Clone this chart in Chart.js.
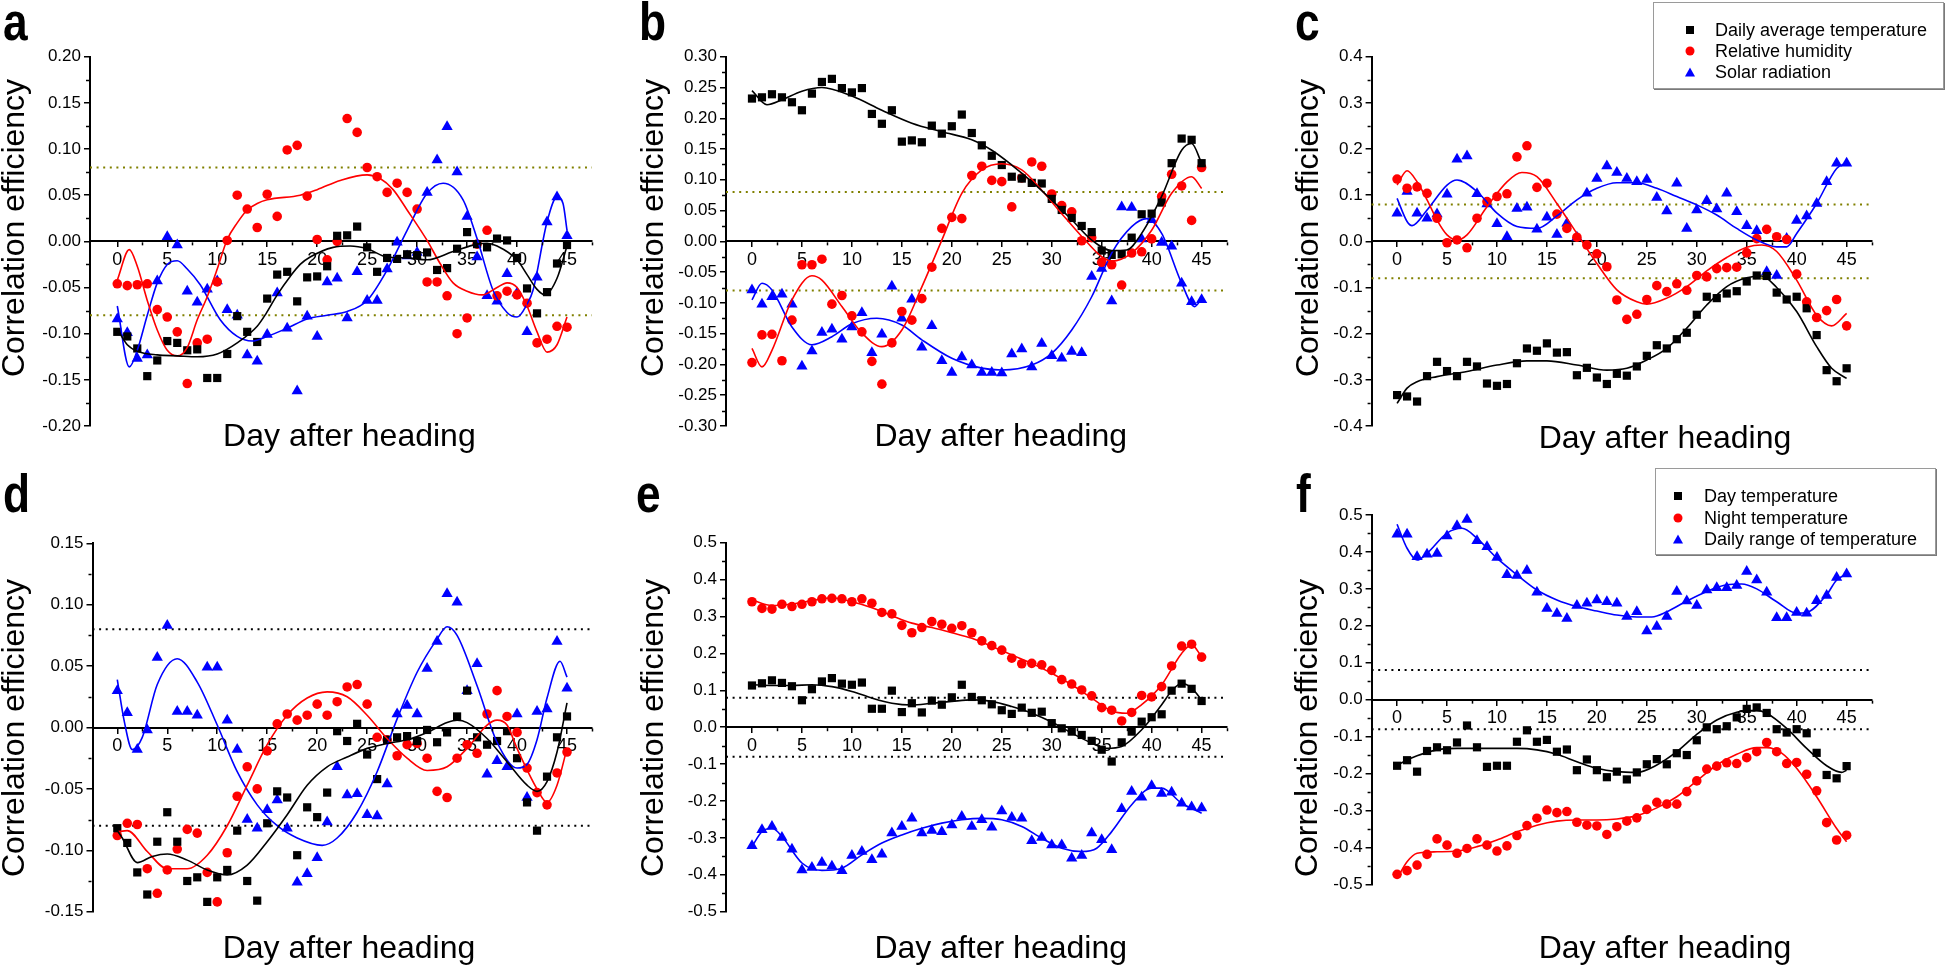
<!DOCTYPE html>
<html><head><meta charset="utf-8">
<script src="https://cdn.jsdelivr.net/npm/chart.js"></script>
<style>
html,body{margin:0;padding:0;background:#fff;}
body{position:relative;width:1946px;height:970px;overflow:hidden;font-family:"Liberation Sans",Arial,Helvetica,sans-serif;color:#000;}
.panel{position:absolute;}
.panel canvas{display:block;}
.letter{position:absolute;font-weight:bold;font-size:54px;line-height:54px;transform:scaleX(0.82);transform-origin:0 0;z-index:5;}
.xt{position:absolute;font-size:32px;line-height:32px;white-space:nowrap;transform:translate(-50%,-50%);z-index:5;}
.yt{position:absolute;font-size:32px;line-height:32px;white-space:nowrap;transform:translate(-50%,-50%) rotate(-90deg);z-index:5;}
.legend{position:absolute;background:#fff;border:1px solid #9a9a9a;box-shadow:1px 1px 0 #7a7a7a;z-index:6;}
.ltxt{position:absolute;font-size:18px;line-height:18px;white-space:nowrap;transform:translateY(-50%);}
.mk{position:absolute;transform:translate(-50%,-50%);}
</style></head><body>
<script>
// ---------------- DATA ----------------
const days=[0,1,2,3,4,5,6,7,8,9,10,11,12,13,14,15,16,17,18,19,20,21,22,23,24,25,26,27,28,29,30,31,32,33,34,35,36,37,38,39,40,41,42,43,44,45];
const xMajorTicks=[0,5,10,15,20,25,30,35,40,45];
const xMinorTicks=[2.5,7.5,12.5,17.5,22.5,27.5,32.5,37.5,42.5,47.5];
const refLevels=[0.08,-0.08];
const legendTopRow=['Daily average temperature','Relative humidity','Solar radiation'];
const legendBottomRow=['Day temperature','Night temperature','Daily range of temperature'];

const aYTicks=[-0.20,-0.15,-0.10,-0.05,0,0.05,0.10,0.15,0.20];
const aYMinor=[-0.175,-0.125,-0.075,-0.025,0.025,0.075,0.125,0.175];
const bYTicks=[-0.30,-0.25,-0.20,-0.15,-0.10,-0.05,0,0.05,0.10,0.15,0.20,0.25,0.30];
const bYMinor=[-0.275,-0.225,-0.175,-0.125,-0.075,-0.025,0.025,0.075,0.125,0.175,0.225,0.275];
const cYTicks=[-0.4,-0.3,-0.2,-0.1,0,0.1,0.2,0.3,0.4];
const cYMinor=[-0.35,-0.25,-0.15,-0.05,0.05,0.15,0.25,0.35];
const dYTicks=[-0.15,-0.10,-0.05,0,0.05,0.10,0.15];
const dYMinor=[-0.125,-0.075,-0.025,0.025,0.075,0.125];
const efYTicks=[-0.5,-0.4,-0.3,-0.2,-0.1,0,0.1,0.2,0.3,0.4,0.5];
const efYMinor=[-0.45,-0.35,-0.25,-0.15,-0.05,0.05,0.15,0.25,0.35,0.45];

// panel a
const aTemp=[-0.098,-0.103,-0.116,-0.146,-0.129,-0.108,-0.110,-0.118,-0.117,-0.148,-0.148,-0.122,-0.081,-0.098,-0.109,-0.062,-0.036,-0.033,-0.065,-0.039,-0.038,-0.027,0.006,0.0065,0.016,-0.0065,-0.033,-0.018,-0.019,-0.014,-0.015,-0.012,-0.031,-0.029,-0.008,0.010,-0.003,-0.0065,0.003,0.001,-0.018,-0.051,-0.078,-0.055,-0.024,-0.004];
const aHum=[-0.046,-0.048,-0.047,-0.046,-0.074,-0.082,-0.098,-0.154,-0.110,-0.106,-0.044,0.001,0.050,0.035,0.015,0.051,0.027,0.099,0.104,0.049,0.002,-0.020,0.000,0.133,0.118,0.080,0.070,0.053,0.063,0.053,0.035,-0.044,-0.044,-0.059,-0.100,-0.083,-0.003,0.012,-0.059,-0.054,-0.058,-0.067,-0.110,-0.106,-0.092,-0.093];
const aSolar=[-0.084,-0.099,-0.127,-0.123,-0.043,0.005,-0.004,-0.054,-0.066,-0.052,-0.043,-0.074,-0.080,-0.123,-0.130,-0.101,-0.056,-0.094,-0.162,-0.081,-0.103,-0.044,-0.040,-0.083,-0.033,-0.064,-0.064,-0.030,-0.001,-0.016,-0.012,0.053,0.088,0.124,0.075,0.027,-0.017,-0.059,-0.065,-0.035,-0.056,-0.098,-0.039,0.021,0.048,0.006];
const aTempFitX=[0,1,2,4,6,8,10,12,14,14.9,16,17.3,18.3,19.3,21.6,23.3,25,27,29,31,33.6,36,37,38,40,41,42,42.8,44,45];
const aTempFitY=[-0.095,-0.112,-0.119,-0.123,-0.124,-0.125,-0.122,-0.110,-0.092,-0.078,-0.058,-0.038,-0.025,-0.017,-0.0065,-0.005,-0.008,-0.017,-0.018,-0.020,-0.011,-0.003,-0.002,-0.005,-0.020,-0.036,-0.052,-0.058,-0.040,-0.005];
const aHumFitX=[0,1.2,2,3,4,5,6,7,8,9,10,11,12,13,14,15,18.3,20,22.3,25,26.3,27.6,29,31,32.3,33.6,35,36.5,38,39,40,41,42,43,44,45];
const aHumFitY=[-0.042,-0.009,-0.027,-0.064,-0.096,-0.118,-0.124,-0.115,-0.085,-0.060,-0.030,0.002,0.020,0.034,0.041,0.045,0.050,0.056,0.066,0.072,0.068,0.056,0.034,0.001,-0.024,-0.045,-0.054,-0.058,-0.050,-0.045,-0.050,-0.070,-0.098,-0.120,-0.112,-0.082];
const aSolarFitX=[0,1.2,2,3,4,5,6,7,8.3,10.3,12,13.5,15,17,19,21,23,25,27,29,31,32.6,34.6,36,37.6,39,40,41,41.6,43,44,44.6,45];
const aSolarFitY=[-0.070,-0.136,-0.118,-0.080,-0.045,-0.025,-0.021,-0.030,-0.047,-0.085,-0.103,-0.108,-0.103,-0.094,-0.084,-0.080,-0.076,-0.064,-0.031,0.012,0.052,0.063,0.045,0.003,-0.053,-0.077,-0.082,-0.068,-0.053,0.021,0.048,0.041,0.012];

// panel b
const bTemp=[0.232,0.234,0.239,0.234,0.226,0.213,0.240,0.259,0.264,0.249,0.242,0.249,0.207,0.191,0.213,0.162,0.164,0.161,0.188,0.175,0.187,0.206,0.176,0.156,0.139,0.124,0.105,0.102,0.095,0.094,0.069,0.051,0.038,0.025,0.015,-0.015,-0.022,-0.021,0.006,0.044,0.045,0.063,0.127,0.167,0.165,0.127];
const bHum=[-0.197,-0.152,-0.151,-0.194,-0.128,-0.038,-0.038,-0.029,-0.102,-0.088,-0.121,-0.147,-0.195,-0.232,-0.165,-0.114,-0.128,-0.093,-0.042,0.021,0.039,0.037,0.107,0.122,0.099,0.097,0.056,0.103,0.129,0.122,0.077,0.058,0.048,0.001,0.006,-0.034,-0.038,-0.071,-0.019,-0.017,0.004,0.073,0.109,0.090,0.034,0.120];
const bSolar=[-0.079,-0.102,-0.090,-0.086,-0.102,-0.203,-0.178,-0.148,-0.143,-0.159,-0.139,-0.116,-0.181,-0.151,-0.073,-0.125,-0.094,-0.172,-0.137,-0.194,-0.213,-0.188,-0.201,-0.213,-0.213,-0.214,-0.183,-0.175,-0.204,-0.166,-0.186,-0.190,-0.179,-0.181,-0.057,-0.044,-0.097,0.056,0.055,0.004,0.035,-0.002,-0.008,-0.068,-0.098,-0.095];
const bTempFitX=[0,1.5,3,5,7,10,13,16,19,22,24,26,28,30,32,34,36,37.5,39,41,43,44,45];
const bTempFitY=[0.245,0.222,0.230,0.244,0.250,0.236,0.213,0.192,0.178,0.165,0.148,0.124,0.097,0.067,0.035,0.002,-0.015,-0.014,0.013,0.073,0.148,0.159,0.127];
const bHumFitX=[0,1,2,4,6,7,9,11,13,15,17,19,21,23,25,27,29,31,33,35,36,38,40,42,44,45];
const bHumFitY=[-0.174,-0.204,-0.177,-0.095,-0.056,-0.063,-0.106,-0.149,-0.171,-0.144,-0.074,0.002,0.078,0.116,0.126,0.116,0.083,0.045,0.008,-0.025,-0.032,-0.019,0.018,0.078,0.105,0.086];
const bSolarFitX=[0,1,2,4,6,8,10,12.5,15,17,20,23,25,28,30,32,34,36,38,39.5,41,43,44.3,45];
const bSolarFitY=[-0.095,-0.068,-0.079,-0.139,-0.168,-0.155,-0.134,-0.125,-0.136,-0.160,-0.190,-0.206,-0.209,-0.201,-0.182,-0.144,-0.090,-0.019,0.024,0.037,0.013,-0.068,-0.106,-0.093];

// panel c
const cTemp=[-0.333,-0.336,-0.347,-0.292,-0.261,-0.281,-0.292,-0.261,-0.271,-0.308,-0.313,-0.309,-0.264,-0.232,-0.237,-0.221,-0.241,-0.240,-0.290,-0.274,-0.295,-0.309,-0.287,-0.291,-0.271,-0.248,-0.225,-0.232,-0.212,-0.198,-0.159,-0.120,-0.123,-0.113,-0.108,-0.087,-0.074,-0.075,-0.111,-0.126,-0.120,-0.145,-0.203,-0.279,-0.303,-0.275];
const cHum=[0.135,0.115,0.118,0.104,0.050,-0.003,0.003,-0.014,0.050,0.086,0.097,0.103,0.183,0.207,0.117,0.126,0.059,0.028,0.009,-0.008,-0.027,-0.055,-0.127,-0.169,-0.158,-0.126,-0.096,-0.109,-0.092,-0.106,-0.074,-0.077,-0.059,-0.057,-0.056,-0.025,0.006,0.026,0.010,0.004,-0.071,-0.131,-0.165,-0.150,-0.126,-0.183];
const cSolar=[0.061,0.108,0.061,0.050,0.059,0.102,0.178,0.185,0.103,0.081,0.038,0.010,0.071,0.074,0.026,0.052,0.015,0.039,0.009,0.104,0.136,0.163,0.149,0.136,0.129,0.134,0.095,0.066,0.126,0.028,0.068,0.088,0.070,0.104,0.064,0.034,0.023,-0.066,-0.074,0.006,0.045,0.055,0.082,0.129,0.169,0.169];
const cTempFitX=[0,1,2,4,7,10,13,15,18,21,23,25,27,29,31,33,35,36.5,38,40,42,43.5,45];
const cTempFitY=[-0.351,-0.318,-0.304,-0.293,-0.282,-0.268,-0.259,-0.259,-0.268,-0.279,-0.275,-0.257,-0.232,-0.188,-0.138,-0.098,-0.079,-0.075,-0.100,-0.152,-0.228,-0.275,-0.297];
const cHumFitX=[0,1,2,3,4,5,6,7,9,11,12.5,14,16,18,20,22,24,25,27,29,31,33,35,36.5,38,40,42,43.5,45];
const cHumFitY=[0.122,0.153,0.129,0.090,0.046,0.014,0.003,0.014,0.075,0.129,0.149,0.140,0.082,0.017,-0.048,-0.105,-0.131,-0.136,-0.123,-0.098,-0.064,-0.035,-0.013,-0.008,-0.022,-0.084,-0.160,-0.183,-0.156];
const cSolarFitX=[0,1,1.5,3,5,6,8,10,12,14,16,18,20,22,24,26,28,30,32,34,36,38,39,40,42,44,45];
const cSolarFitY=[0.093,0.043,0.034,0.068,0.122,0.133,0.108,0.061,0.032,0.028,0.055,0.090,0.115,0.127,0.127,0.115,0.097,0.079,0.057,0.028,0.003,-0.012,-0.012,0.017,0.082,0.158,0.170];

// panel d
const dDayTemp=[-0.082,-0.094,-0.118,-0.136,-0.093,-0.069,-0.093,-0.125,-0.122,-0.142,-0.122,-0.116,-0.084,-0.125,-0.141,-0.078,-0.052,-0.057,-0.104,-0.065,-0.073,-0.053,-0.003,-0.011,0.003,-0.022,-0.042,-0.010,-0.008,-0.007,-0.011,-0.002,-0.012,-0.004,0.009,0.030,-0.008,-0.014,-0.011,-0.003,-0.025,-0.061,-0.084,-0.040,-0.008,0.009];
const dNightTemp=[-0.088,-0.078,-0.079,-0.115,-0.135,-0.116,-0.099,-0.083,-0.086,-0.118,-0.142,-0.102,-0.056,-0.032,-0.050,-0.019,0.003,0.011,0.006,0.010,0.019,0.010,0.021,0.033,0.035,0.019,-0.008,-0.010,-0.023,-0.014,-0.013,-0.025,-0.052,-0.057,-0.025,-0.014,-0.021,0.011,0.030,0.009,-0.004,-0.033,-0.053,-0.063,-0.037,-0.020];
const dRange=[0.030,0.012,-0.018,-0.002,0.057,0.083,0.013,0.013,0.010,0.049,0.049,0.006,-0.018,-0.075,-0.082,-0.067,-0.059,-0.082,-0.126,-0.119,-0.106,-0.077,-0.032,-0.055,-0.054,-0.071,-0.072,-0.046,0.011,0.018,0.011,0.048,0.070,0.109,0.102,0.030,0.052,-0.038,-0.027,-0.032,0.011,-0.057,0.013,0.015,0.070,0.032];
const dDayFitX=[0,0.5,2,3.5,5,7,9,11,13,15,17,19,21,23,25,27,29,31,33,34,35,37,39,41,42,43,44,45];
const dDayFitY=[-0.084,-0.090,-0.110,-0.105,-0.103,-0.108,-0.116,-0.120,-0.112,-0.093,-0.071,-0.047,-0.032,-0.024,-0.017,-0.013,-0.010,-0.004,0.004,0.006,0.004,-0.009,-0.028,-0.047,-0.052,-0.044,-0.020,0.020];
const dNightFitX=[0,1,3,5,7,9,11,13,15,17,19,21,23,25,27,29,31,33,35,37,38,39,40,42,43,44,45];
const dNightFitY=[-0.085,-0.084,-0.101,-0.115,-0.115,-0.104,-0.080,-0.047,-0.014,0.010,0.024,0.029,0.025,0.010,-0.009,-0.025,-0.035,-0.032,-0.017,0.002,0.006,0.002,-0.017,-0.050,-0.061,-0.047,-0.017];
const dRangeFitX=[0,0.7,1.5,2.5,4,6,8,10,12,14,16,18,20.5,22,24,26,28,30,32,33,34,36,38,40,41,42,43,44.3,45];
const dRangeFitY=[0.039,0.005,-0.018,-0.008,0.035,0.056,0.037,0.002,-0.036,-0.063,-0.080,-0.090,-0.096,-0.090,-0.069,-0.036,0.007,0.045,0.072,0.082,0.075,0.034,-0.012,-0.033,-0.030,-0.010,0.024,0.054,0.041];

// panel e
const eDayTemp=[0.113,0.119,0.127,0.120,0.111,0.073,0.103,0.124,0.133,0.118,0.115,0.121,0.050,0.050,0.099,0.041,0.065,0.040,0.072,0.061,0.081,0.115,0.082,0.073,0.062,0.046,0.036,0.053,0.039,0.042,0.011,-0.003,-0.012,-0.021,-0.037,-0.061,-0.093,-0.041,-0.012,0.015,0.027,0.035,0.099,0.118,0.104,0.071];
const eNightTemp=[0.340,0.322,0.320,0.333,0.327,0.333,0.340,0.348,0.349,0.348,0.340,0.348,0.336,0.311,0.307,0.276,0.256,0.270,0.286,0.279,0.268,0.275,0.256,0.234,0.221,0.209,0.187,0.172,0.173,0.169,0.154,0.129,0.117,0.101,0.085,0.053,0.046,0.017,0.040,0.086,0.082,0.110,0.166,0.220,0.225,0.190];
const eRange=[-0.321,-0.278,-0.269,-0.299,-0.331,-0.387,-0.380,-0.367,-0.377,-0.389,-0.348,-0.337,-0.359,-0.344,-0.287,-0.269,-0.247,-0.287,-0.280,-0.283,-0.265,-0.242,-0.269,-0.251,-0.271,-0.227,-0.245,-0.247,-0.308,-0.299,-0.319,-0.319,-0.355,-0.348,-0.287,-0.305,-0.332,-0.221,-0.174,-0.190,-0.159,-0.180,-0.176,-0.206,-0.216,-0.219];
const eDayFitX=[0,2,4,6,8,10,12,14,16,18,20,22,24,26,28,30,32,34,35.5,37,39,41,42,43,44,45];
const eDayFitY=[0.115,0.113,0.113,0.115,0.110,0.097,0.079,0.065,0.060,0.065,0.070,0.074,0.070,0.056,0.038,0.014,-0.016,-0.043,-0.057,-0.052,-0.007,0.061,0.098,0.119,0.106,0.074];
const eNightFitX=[0,2,4,6,8,10,12,14,16,18,20,22,24,26,28,30,32,34,36,37.5,39,41,43,44,45];
const eNightFitY=[0.345,0.330,0.334,0.343,0.351,0.340,0.324,0.302,0.282,0.270,0.256,0.241,0.219,0.196,0.173,0.146,0.115,0.079,0.044,0.038,0.061,0.115,0.200,0.223,0.191];
const eRangeFitX=[0,1,2,3,5,7,9,11,13,15,17,19,21,23,25,27,29,31,33,34.5,36,38,40,41,43,45];
const eRangeFitY=[-0.323,-0.283,-0.274,-0.296,-0.368,-0.388,-0.382,-0.346,-0.314,-0.292,-0.274,-0.260,-0.251,-0.247,-0.251,-0.269,-0.301,-0.328,-0.337,-0.328,-0.283,-0.210,-0.165,-0.165,-0.206,-0.233];

// panel f
const fDayTemp=[-0.179,-0.164,-0.195,-0.139,-0.129,-0.137,-0.116,-0.070,-0.129,-0.182,-0.179,-0.179,-0.114,-0.083,-0.114,-0.109,-0.141,-0.135,-0.191,-0.162,-0.191,-0.210,-0.195,-0.216,-0.197,-0.175,-0.161,-0.175,-0.145,-0.150,-0.110,-0.075,-0.080,-0.072,-0.048,-0.025,-0.021,-0.036,-0.080,-0.089,-0.080,-0.091,-0.144,-0.204,-0.213,-0.180];
const fNightTemp=[-0.473,-0.463,-0.448,-0.419,-0.377,-0.394,-0.416,-0.403,-0.377,-0.394,-0.410,-0.396,-0.368,-0.341,-0.321,-0.299,-0.306,-0.303,-0.332,-0.340,-0.342,-0.365,-0.344,-0.329,-0.320,-0.297,-0.278,-0.283,-0.283,-0.249,-0.220,-0.188,-0.180,-0.171,-0.173,-0.157,-0.141,-0.116,-0.141,-0.173,-0.170,-0.202,-0.247,-0.333,-0.380,-0.367];
const fRange=[0.448,0.448,0.387,0.394,0.396,0.443,0.471,0.488,0.430,0.414,0.385,0.338,0.336,0.350,0.291,0.247,0.233,0.220,0.255,0.261,0.270,0.265,0.261,0.225,0.238,0.186,0.198,0.225,0.293,0.267,0.255,0.297,0.303,0.303,0.309,0.347,0.324,0.291,0.222,0.222,0.236,0.234,0.268,0.282,0.331,0.340];
const fDayFitX=[0,2,4,6,8,10,12,14,16,18,20,22,24,26,28,30,32,34,36,37,39,41,43,44.5,45];
const fDayFitY=[-0.177,-0.152,-0.136,-0.132,-0.132,-0.132,-0.132,-0.136,-0.148,-0.168,-0.186,-0.195,-0.197,-0.177,-0.141,-0.094,-0.055,-0.034,-0.029,-0.037,-0.078,-0.132,-0.179,-0.197,-0.191];
const fNightFitX=[0,1,2,4,6,8,10,12,14,16,18,20,22,24,26,28,30,32,34,36,37,38.5,40,42,44,45];
const fNightFitY=[-0.484,-0.439,-0.416,-0.412,-0.410,-0.398,-0.380,-0.358,-0.340,-0.329,-0.326,-0.326,-0.323,-0.314,-0.293,-0.263,-0.220,-0.177,-0.148,-0.130,-0.130,-0.145,-0.186,-0.263,-0.349,-0.385];
const fRangeFitX=[0,1,2,3,5,6.5,8,10,12,14,16,18,20,22,24,25.5,27,29,31,33,34.5,36,38,40,41,43,44,45];
const fRangeFitY=[0.475,0.410,0.378,0.396,0.451,0.464,0.437,0.383,0.338,0.297,0.270,0.252,0.240,0.229,0.224,0.224,0.238,0.267,0.293,0.311,0.313,0.300,0.265,0.234,0.236,0.284,0.324,0.340];

// ---------------- LAYOUT / STYLE ----------------
const X_MAX=47.5;
const colors=['#000000','#ff0000','#0000ff'];
const pointStyles=['rect','circle','triangle'];
const pointRadii=[5.8,4.8,6.5];
const OLIVE='#808000';

const panels=[
 {letter:'a',letterPos:[3,-6],box:[0,0,640,485],area:[90,56.7,592,426],xMin:-2.73,yMin:-0.2,yMax:0.2,yTicks:aYTicks,yMinor:aYMinor,dec:2,refColor:OLIVE,labels:legendTopRow,
  series:[[aTemp,aTempFitX,aTempFitY],[aHum,aHumFitX,aHumFitY],[aSolar,aSolarFitX,aSolarFitY]],yt:[12.5,227.5],xt:[349.4,435]},
 {letter:'b',letterPos:[639,-6],box:[640,0,650,485],area:[726,56.7,1226.6,426],xMin:-2.6,yMin:-0.3,yMax:0.3,yTicks:bYTicks,yMinor:bYMinor,dec:2,refColor:OLIVE,labels:legendTopRow,
  series:[[bTemp,bTempFitX,bTempFitY],[bHum,bHumFitX,bHumFitY],[bSolar,bSolarFitX,bSolarFitY]],yt:[651.5,227.5],xt:[1000.7,435]},
 {letter:'c',letterPos:[1295,-6],box:[1290,0,656,485],area:[1371.6,56.7,1871.6,426],xMin:-2.55,yMin:-0.4,yMax:0.4,yTicks:cYTicks,yMinor:cYMinor,dec:1,refColor:OLIVE,labels:legendTopRow,
  series:[[cTemp,cTempFitX,cTempFitY],[cHum,cHumFitX,cHumFitY],[cSolar,cSolarFitX,cSolarFitY]],yt:[1306.5,227.5],xt:[1665,437]},
 {letter:'d',letterPos:[3,466],box:[0,485,640,485],area:[92.5,543.3,592,911.7],xMin:-2.48,yMin:-0.15,yMax:0.15,yTicks:dYTicks,yMinor:dYMinor,dec:2,refColor:'#000',labels:legendBottomRow,
  series:[[dDayTemp,dDayFitX,dDayFitY],[dNightTemp,dNightFitX,dNightFitY],[dRange,dRangeFitX,dRangeFitY]],yt:[12.5,727.6],xt:[349,947]},
 {letter:'e',letterPos:[636,466],box:[640,485,650,485],area:[726,542.7,1226.6,911.7],xMin:-2.6,yMin:-0.5,yMax:0.5,yTicks:efYTicks,yMinor:efYMinor,dec:1,refColor:'#000',labels:legendBottomRow,
  series:[[eDayTemp,eDayFitX,eDayFitY],[eNightTemp,eNightFitX,eNightFitY],[eRange,eRangeFitX,eRangeFitY]],yt:[651.5,727.6],xt:[1000.7,947]},
 {letter:'f',letterPos:[1296,466],box:[1290,485,656,485],area:[1371.6,515,1871.6,884.3],xMin:-2.55,yMin:-0.5,yMax:0.5,yTicks:efYTicks,yMinor:efYMinor,dec:1,refColor:'#000',labels:legendBottomRow,
  series:[[fDayTemp,fDayFitX,fDayFitY],[fNightTemp,fNightFitX,fNightFitY],[fRange,fRangeFitX,fRangeFitY]],yt:[1305.5,727.6],xt:[1665,947]}
];

Chart.defaults.font.family='"Liberation Sans", Arial, Helvetica, sans-serif';
Chart.defaults.color='#000';

const minorTickPlugin={
  id:'minorTicks',
  afterDraw(chart,args,opts){
    const {ctx,chartArea}=chart; const xs=chart.scales.x, ys=chart.scales.y;
    const y0=ys.getPixelForValue(0);
    ctx.save(); ctx.strokeStyle='#000'; ctx.lineWidth=1.5;
    (opts.x||[]).forEach(v=>{const px=Math.round(xs.getPixelForValue(v))+0.5; ctx.beginPath(); ctx.moveTo(px,y0+1); ctx.lineTo(px,y0+4); ctx.stroke();});
    (opts.y||[]).forEach(v=>{const py=Math.round(ys.getPixelForValue(v))+0.5; ctx.beginPath(); ctx.moveTo(chartArea.left-1,py); ctx.lineTo(chartArea.left-4,py); ctx.stroke();});
    ctx.restore();
  }
};

function addDiv(cls,text,style){const d=document.createElement('div');d.className=cls;if(text!==null)d.textContent=text;Object.assign(d.style,style);document.body.appendChild(d);return d;}

panels.forEach(p=>{
  const [cx,cy,cw,ch]=p.box,[L,T,R,B]=p.area,YW=60;
  const wrap=document.createElement('div');wrap.className='panel';
  Object.assign(wrap.style,{left:cx+'px',top:cy+'px',width:cw+'px',height:ch+'px'});
  const cv=document.createElement('canvas');cv.width=cw;cv.height=ch;cv.style.width=cw+'px';cv.style.height=ch+'px';
  wrap.appendChild(cv);document.body.appendChild(wrap);
  const ds=[];
  refLevels.forEach(v=>ds.push({type:'line',label:'ref '+v,data:[{x:p.xMin,y:v},{x:X_MAX,y:v}],borderColor:p.refColor,borderWidth:2,borderDash:[2,4.6],pointRadius:0,fill:false,order:5,clip:false}));
  p.series.forEach((s,i)=>ds.push({type:'scatter',label:p.labels[i],data:days.map((d,j)=>({x:d,y:s[0][j]})),pointStyle:pointStyles[i],pointRadius:pointRadii[i],pointHoverRadius:pointRadii[i],backgroundColor:colors[i],borderColor:colors[i],borderWidth:0,order:3,clip:false}));
  p.series.forEach((s,i)=>ds.push({type:'line',label:p.labels[i]+' fit',data:s[1].map((x,j)=>({x:x,y:s[2][j]})),borderColor:colors[i],borderWidth:1.6,pointRadius:0,cubicInterpolationMode:'monotone',fill:false,order:1,clip:false}));
  new Chart(cv,{type:'scatter',data:{datasets:ds},options:{
    responsive:false,animation:false,devicePixelRatio:1,events:[],
    layout:{padding:{left:L-cx-YW,top:T-cy,right:cx+cw-R,bottom:cy+ch-B}},
    plugins:{legend:{display:false},tooltip:{enabled:false},minorTicks:{x:xMinorTicks,y:p.yMinor}},
    scales:{
      x:{type:'linear',position:{y:0},min:p.xMin,max:X_MAX,
         afterBuildTicks:s=>{s.ticks=xMajorTicks.map(v=>({value:v}));},
         ticks:{callback:v=>String(v),font:{size:18},color:'#000',padding:3,maxRotation:0,autoSkip:false},
         grid:{display:true,drawOnChartArea:false,drawTicks:true,tickLength:5,color:'#000',lineWidth:1.5},
         border:{display:true,color:'#000',width:2}},
      y:{type:'linear',position:'left',min:p.yMin,max:p.yMax,
         afterBuildTicks:s=>{s.ticks=p.yTicks.map(v=>({value:v}));},
         afterFit:s=>{s.width=YW;},
         ticks:{callback:v=>Number(v).toFixed(p.dec),font:{size:17},color:'#000',padding:3,autoSkip:false},
         grid:{display:true,drawOnChartArea:false,drawTicks:true,tickLength:6,color:'#000',lineWidth:1.5},
         border:{display:true,color:'#000',width:2}}
    }},plugins:[minorTickPlugin]});
  addDiv('letter',p.letter,{left:p.letterPos[0]+'px',top:p.letterPos[1]+'px'});
  addDiv('yt','Correlation efficiency',{left:p.yt[0]+'px',top:p.yt[1]+'px'});
  addDiv('xt','Day after heading',{left:p.xt[0]+'px',top:p.xt[1]+'px'});
});

// legends
function makeLegend(labels,box,rowsY,markerX,textX){
  const lg=addDiv('legend',null,{left:box[0]+'px',top:box[1]+'px',width:box[2]+'px',height:box[3]+'px'});
  labels.forEach((t,i)=>{
    const m=document.createElement('div');m.className='mk';
    m.style.left=(markerX-box[0])+'px';m.style.top=(rowsY[i]-box[1])+'px';
    if(i===0){Object.assign(m.style,{width:'8px',height:'8px',background:colors[0]});}
    else if(i===1){Object.assign(m.style,{width:'9px',height:'9px',borderRadius:'50%',background:colors[1]});}
    else {Object.assign(m.style,{width:'0',height:'0',borderLeft:'5px solid transparent',borderRight:'5px solid transparent',borderBottom:'9px solid '+colors[2]});}
    lg.appendChild(m);
    const tx=document.createElement('div');tx.className='ltxt';tx.textContent=t;
    tx.style.left=(textX-box[0])+'px';tx.style.top=(rowsY[i]-box[1])+'px';
    lg.appendChild(tx);
  });
}
makeLegend(legendTopRow,[1653,2,289,85],[29.3,50,71],1689.3,1714);
makeLegend(legendBottomRow,[1655,468,279,85],[494.5,516.5,538.3],1677,1703);
</script>
</body></html>
